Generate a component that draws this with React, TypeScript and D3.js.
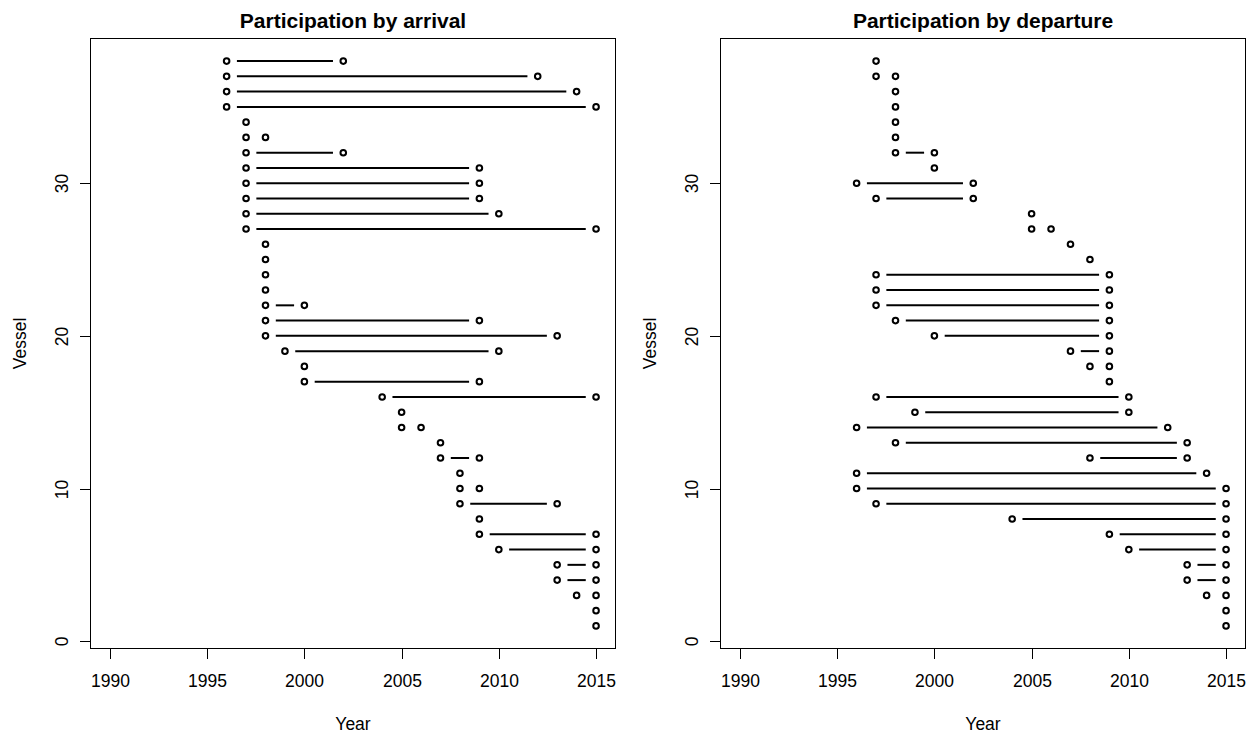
import React from 'react';
import * as d3 from 'd3';

const vessels = d3.range(1, 39);

const arrivalStart = [2015,2015,2014,2013,2013,2010,2009,2009,2008,2008,2008,2007,2007,2005,2005,2004,2000,2000,1999,1998,1998,1998,1998,1998,1998,1998,1997,1997,1997,1997,1997,1997,1997,1997,1996,1996,1996,1996];
const arrivalEnd = [2015,2015,2015,2015,2015,2015,2015,2009,2013,2009,2008,2009,2007,2006,2005,2015,2009,2000,2010,2013,2009,2000,1998,1998,1998,1998,2015,2010,2009,2009,2009,2002,1998,1997,2015,2014,2012,2002];

const departureStart = [2015,2015,2014,2013,2013,2010,2009,2004,1997,1996,1996,2008,1998,1996,1999,1997,2009,2008,2007,2000,1998,1997,1997,1997,2008,2007,2005,2005,1997,1996,2000,1998,1998,1998,1998,1998,1997,1997];
const departureEnd = [2015,2015,2015,2015,2015,2015,2015,2015,2015,2015,2014,2013,2013,2012,2010,2010,2009,2009,2009,2009,2009,2009,2009,2009,2008,2007,2006,2005,2002,2002,2000,2000,1998,1998,1998,1998,1998,1997];

const xTicks = [1990, 1995, 2000, 2005, 2010, 2015];
const yTicks = [0, 10, 20, 30];

const panels = [
  { title: 'Participation by arrival', start: arrivalStart, end: arrivalEnd, offset: 0 },
  { title: 'Participation by departure', start: departureStart, end: departureEnd, offset: 630 },
];

const FONT = '"Liberation Sans", Arial, sans-serif';
const GAP = 10.3;
const R = 2.8;

function Panel({ title, start, end, offset }: { title: string; start: number[]; end: number[]; offset: number }) {
  const left = 90.5 + offset;
  const right = 615.5 + offset;
  const top = 38.5;
  const bottom = 648.5;
  const x = d3.scaleLinear().domain([1989, 2016]).range([left, right]);
  const y = d3.scaleLinear().domain([-0.48, 39.48]).range([bottom, top]);
  const cx = (left + right) / 2;
  const cy = (top + bottom) / 2;
  return (
    <g>
      <text x={cx} y={27.5} textAnchor="middle" fontFamily={FONT} fontWeight="bold" fontSize={21} fill="#000">{title}</text>
      <rect x={left} y={top} width={right - left} height={bottom - top} fill="none" stroke="#000" strokeWidth={1} />
      <line x1={Math.round(x(xTicks[0])) + 0.5} x2={Math.round(x(xTicks[xTicks.length - 1])) + 0.5} y1={bottom} y2={bottom} stroke="#000" />
      {xTicks.map((t) => {
        const px = Math.round(x(t)) + 0.5;
        return (
          <g key={t}>
            <line x1={px} x2={px} y1={bottom} y2={bottom + 10.5} stroke="#000" />
            <text x={px} y={687} textAnchor="middle" fontFamily={FONT} fontSize={17.5} fill="#000">{t}</text>
          </g>
        );
      })}
      <text x={cx} y={730} textAnchor="middle" fontFamily={FONT} fontSize={17.5} fill="#000">Year</text>
      <line x1={left} x2={left} y1={Math.round(y(yTicks[0])) + 0.5} y2={Math.round(y(yTicks[yTicks.length - 1])) + 0.5} stroke="#000" />
      {yTicks.map((t) => {
        const py = Math.round(y(t)) + 0.5;
        return (
          <g key={t}>
            <line x1={left - 10.5} x2={left} y1={py} y2={py} stroke="#000" />
            <text transform={`translate(${left - 23},${py}) rotate(-90)`} textAnchor="middle" fontFamily={FONT} fontSize={17.5} fill="#000">{t}</text>
          </g>
        );
      })}
      <text transform={`translate(${left - 65},${cy}) rotate(-90)`} textAnchor="middle" fontFamily={FONT} fontSize={17.5} fill="#000">Vessel</text>
      {vessels.map((v, i) => {
        const x1 = x(start[i]);
        const x2 = x(end[i]);
        const py = y(v);
        if (x2 - x1 <= 2 * GAP) return null;
        return <line key={'l' + v} x1={x1 + GAP} x2={x2 - GAP} y1={py} y2={py} stroke="#000" strokeWidth={2} />;
      })}
      {vessels.map((v, i) => {
        const py = y(v);
        const pts = start[i] === end[i] ? [start[i]] : [start[i], end[i]];
        return pts.map((p, j) => (
          <circle key={'p' + v + '-' + j} cx={x(p)} cy={py} r={R} fill="none" stroke="#000" strokeWidth={2} />
        ));
      })}
    </g>
  );
}

export default function App() {
  return (
    <svg width={1258} height={738} style={{ position: 'absolute', left: 0, top: 0, background: '#fff' }}>
      <rect x={0} y={0} width={1258} height={738} fill="#fff" />
      {panels.map((p) => (
        <Panel key={p.title} {...p} />
      ))}
    </svg>
  );
}
